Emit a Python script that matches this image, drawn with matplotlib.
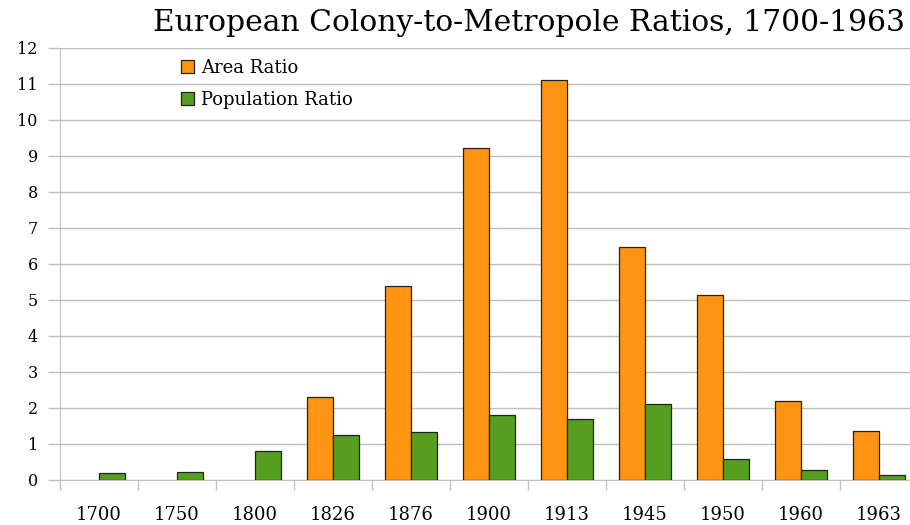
import numpy as np
import matplotlib
matplotlib.use("Agg")
import matplotlib.pyplot as plt

years = ["1700", "1750", "1800", "1826", "1876", "1900", "1913", "1945", "1950", "1960", "1963"]
# no area bar is drawn for the first three years
area_ratio = [np.nan, np.nan, np.nan, 2.3, 5.39, 9.22, 11.11, 6.47, 5.14, 2.19, 1.36]
population_ratio = [0.19, 0.22, 0.8, 1.25, 1.33, 1.8, 1.69, 2.1, 0.58, 0.28, 0.15]

ORANGE = "#ff9412"
GREEN = "#559e1f"
GRID = "#c0c0c0"

plt.rcParams["font.family"] = ["DejaVu Serif"]

fig = plt.figure(figsize=(9.1, 5.25), dpi=100)
ax = fig.add_axes([60 / 910, 45 / 525, 858 / 910, 432 / 525])

x = np.arange(len(years))
w = 1 / 3
ax.bar(x - w / 2, area_ratio, width=w, color=ORANGE, edgecolor="#222222",
       linewidth=0.9, label="Area Ratio", zorder=3)
ax.bar(x + w / 2, population_ratio, width=w, color=GREEN, edgecolor="#222222",
       linewidth=0.9, label="Population Ratio", zorder=3)

ax.set_xlim(-0.5, len(years) - 0.5)
ax.set_ylim(0, 12)

# y axis: gridlines with outward gray ticks
ax.set_yticks(range(0, 13))
ax.yaxis.grid(True, color=GRID, linewidth=1, zorder=0)
ax.tick_params(axis="y", length=9, width=1, color=GRID, pad=7, labelsize=11.5)

# x axis: labels at centers, tick marks at category boundaries
ax.set_xticks(x)
ax.set_xticklabels(years)
ax.set_xticks(np.arange(len(years) + 1) - 0.5, minor=True)
ax.tick_params(axis="x", which="major", length=0, pad=19, labelsize=13)
ax.tick_params(axis="x", which="minor", length=7.5, width=1, color=GRID)

for s in ["top", "right"]:
    ax.spines[s].set_visible(False)
ax.spines["left"].set_color(GRID)
ax.spines["bottom"].set_color(GRID)

ax.legend(loc="upper left", bbox_to_anchor=(172 / 910, 1 - 50 / 525),
          bbox_transform=fig.transFigure, frameon=False, fontsize=13,
          handlelength=0.7, handleheight=0.7, handletextpad=0.4,
          labelspacing=0.75, borderpad=0)

fig.text(905 / 910, 1 - 23 / 525, "European Colony-to-Metropole Ratios, 1700-1963",
         ha="right", va="center", fontsize=21.4)

fig.savefig("out.png", dpi=100)
